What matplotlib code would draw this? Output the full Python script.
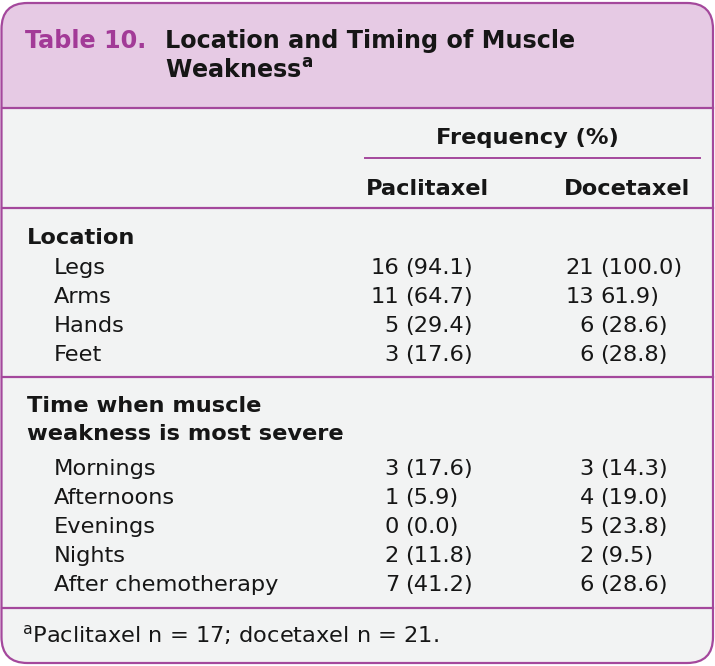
import matplotlib
matplotlib.use("Agg")
from matplotlib import pyplot as plt, patches

# table content
title_no = "Table 10."
title_lines = ["Location and Timing of Muscle", r"Weakness$^{\mathregular{a}}$"]
group_header = "Frequency (%)"
drugs = ["Paclitaxel", "Docetaxel"]

sec1 = ["Location"]
sec1_rows = ["Legs", "Arms", "Hands", "Feet"]
sec2 = ["Time when muscle", "weakness is most severe"]
sec2_rows = ["Mornings", "Afternoons", "Evenings", "Nights", "After chemotherapy"]

pac_n = [16, 11, 5, 3, 3, 1, 0, 2, 7]
pac_pct = ["(94.1)", "(64.7)", "(29.4)", "(17.6)", "(17.6)", "(5.9)", "(0.0)", "(11.8)", "(41.2)"]
doc_n = [21, 13, 6, 6, 3, 4, 5, 2, 6]
doc_pct = ["(100.0)", "61.9)", "(28.6)", "(28.8)", "(14.3)", "(19.0)", "(23.8)", "(9.5)", "(28.6)"]

footnote = r"$^{\mathregular{a}}$Paclitaxel n = 17; docetaxel n = 21."

# colours
border = "#a4489c"
head_bg = "#e6cae4"
body_bg = "#f2f3f3"
magenta = "#a23a97"
ink = "#161616"

W, H = 715, 666
fig = plt.figure(figsize=(W / 100, H / 100), dpi=100)
ax = fig.add_axes([0, 0, 1, 1])
ax.set_xlim(0, W)
ax.set_ylim(H, 0)
ax.axis("off")

fs = 16.2
tfs = 17.2

# outer box with rounded corners
box = patches.FancyBboxPatch((1.5, 3), 711.5, 660, boxstyle="round,pad=0,rounding_size=26",
                             facecolor=body_bg, edgecolor="none", zorder=1)
ax.add_patch(box)
head = patches.Rectangle((0, 0), W, 108, facecolor=head_bg, edgecolor="none", zorder=2)
ax.add_patch(head)
head.set_clip_path(box)
outline = patches.FancyBboxPatch((1.5, 3), 711.5, 660, boxstyle="round,pad=0,rounding_size=26",
                                 facecolor="none", edgecolor=border, lw=1.6, zorder=5)
ax.add_patch(outline)

# rules
for y in [108, 208, 377, 608]:
    ax.plot([1.5, 713], [y, y], color=border, lw=1.6, zorder=4)
ax.plot([365, 700], [158, 158], color=border, lw=1.4, zorder=4)

# title
ax.text(25, 48, title_no, color=magenta, fontsize=tfs, fontweight="bold", va="baseline", zorder=6)
for i, line in enumerate(title_lines):
    ax.text(165, 48 + 30 * i, line, color=ink, fontsize=tfs, fontweight="bold", va="baseline", zorder=6)

# column headers
ax.text(527, 144, group_header, color=ink, fontsize=fs, fontweight="bold", ha="center", va="baseline")
ax.text(366, 195, drugs[0], color=ink, fontsize=fs, fontweight="bold", va="baseline")
ax.text(564, 195, drugs[1], color=ink, fontsize=fs, fontweight="bold", va="baseline")

# row labels
ax.text(27, 244, sec1[0], color=ink, fontsize=fs, fontweight="bold", va="baseline")
row_y = []
for i, lab in enumerate(sec1_rows):
    y = 274 + 29 * i
    row_y.append(y)
    ax.text(54, y, lab, color=ink, fontsize=fs, va="baseline")
for i, lab in enumerate(sec2):
    ax.text(27, 412 + 28 * i, lab, color=ink, fontsize=fs, fontweight="bold", va="baseline")
for i, lab in enumerate(sec2_rows):
    y = 475 + 29 * i
    row_y.append(y)
    ax.text(54, y, lab, color=ink, fontsize=fs, va="baseline")

# values: count right aligned, percentage left aligned
for y, n, p in zip(row_y, pac_n, pac_pct):
    ax.text(399, y, str(n), color=ink, fontsize=fs, ha="right", va="baseline")
    ax.text(405, y, p, color=ink, fontsize=fs, ha="left", va="baseline")
for y, n, p in zip(row_y, doc_n, doc_pct):
    ax.text(594, y, str(n), color=ink, fontsize=fs, ha="right", va="baseline")
    ax.text(600, y, p, color=ink, fontsize=fs, ha="left", va="baseline")

ax.text(22, 642, footnote, color=ink, fontsize=fs, va="baseline")

fig.savefig("out.png", dpi=100, facecolor="white")
